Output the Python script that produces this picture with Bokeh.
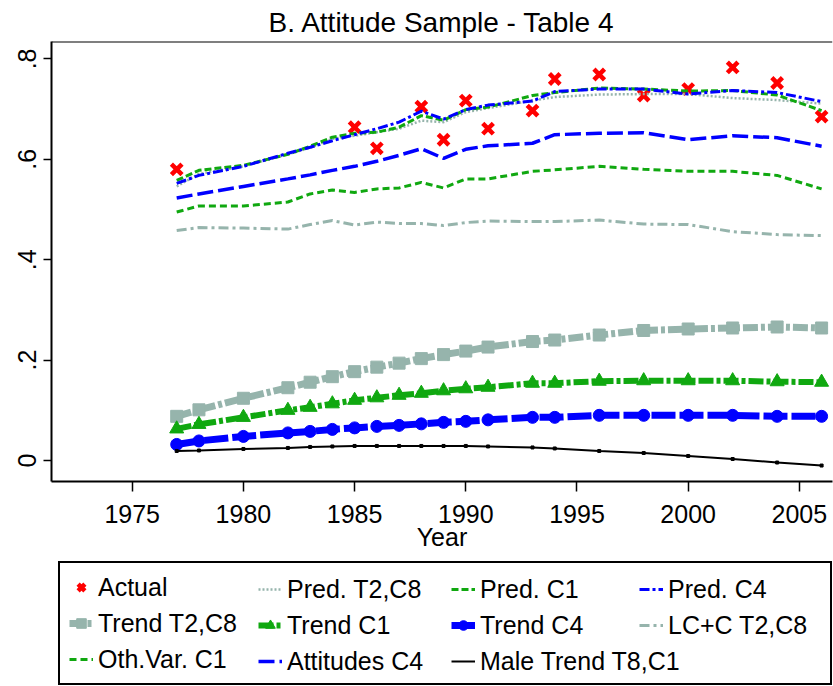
from bokeh.plotting import figure
from bokeh.models import Range1d, FixedTicker, Span, Legend, LegendItem
from bokeh.layouts import column
from bokeh.embed import file_html
from bokeh.resources import INLINE

FONT = "Liberation Sans"
GRAY = "#96b4ac"
GREEN = "#10a810"
BLUE = "#0000ff"
RED = "#ff0000"

# ---------------- data ----------------
years = [1977, 1978, 1980, 1982, 1983, 1984, 1985, 1986, 1987, 1988, 1989,
         1990, 1991, 1993, 1994, 1996, 1998, 2000, 2002, 2004, 2006]

actual_years = [1977, 1985, 1986, 1988, 1989, 1990, 1991, 1993, 1994, 1996,
                1998, 2000, 2002, 2004, 2006]
actual = [0.580, 0.664, 0.622, 0.705, 0.639, 0.717, 0.661, 0.697, 0.760, 0.769,
          0.727, 0.740, 0.783, 0.752, 0.685]

pred_t2c8 = [0.546, 0.571, 0.586, 0.610, 0.623, 0.641, 0.647, 0.654, 0.661, 0.677, 0.674,
             0.694, 0.702, 0.717, 0.724, 0.729, 0.730, 0.730, 0.722, 0.718, 0.711]
pred_c1 = [0.558, 0.578, 0.588, 0.610, 0.626, 0.644, 0.652, 0.654, 0.664, 0.687, 0.678,
           0.699, 0.704, 0.727, 0.733, 0.742, 0.740, 0.736, 0.737, 0.728, 0.697]
pred_c4 = [0.552, 0.568, 0.586, 0.612, 0.624, 0.637, 0.649, 0.661, 0.674, 0.696, 0.680,
           0.699, 0.708, 0.716, 0.735, 0.740, 0.740, 0.730, 0.737, 0.733, 0.715]
trend_t2c8 = [0.088, 0.101, 0.124, 0.145, 0.156, 0.167, 0.177, 0.186, 0.194, 0.203, 0.211,
              0.218, 0.226, 0.237, 0.240, 0.250, 0.259, 0.262, 0.264, 0.266, 0.264]
trend_c1 = [0.063, 0.072, 0.086, 0.100, 0.106, 0.113, 0.120, 0.125, 0.130, 0.134, 0.139,
            0.143, 0.146, 0.154, 0.154, 0.158, 0.159, 0.159, 0.159, 0.157, 0.156]
trend_c4 = [0.032, 0.039, 0.048, 0.055, 0.058, 0.062, 0.065, 0.068, 0.070, 0.073, 0.076,
            0.078, 0.081, 0.086, 0.086, 0.090, 0.090, 0.090, 0.090, 0.088, 0.088]
lc_t2c8 = [0.458, 0.464, 0.463, 0.461, 0.470, 0.478, 0.469, 0.475, 0.472, 0.472, 0.468,
           0.474, 0.477, 0.476, 0.476, 0.479, 0.471, 0.470, 0.456, 0.450, 0.448]
oth_c1 = [0.495, 0.507, 0.507, 0.515, 0.531, 0.539, 0.534, 0.541, 0.543, 0.554, 0.543,
          0.561, 0.561, 0.576, 0.579, 0.586, 0.580, 0.576, 0.576, 0.568, 0.541]
att_c4 = [0.523, 0.531, 0.546, 0.561, 0.569, 0.578, 0.586, 0.596, 0.608, 0.621, 0.602,
          0.620, 0.627, 0.632, 0.649, 0.652, 0.653, 0.639, 0.647, 0.643, 0.626]
male_t8c1 = [0.019, 0.020, 0.023, 0.025, 0.027, 0.028, 0.029, 0.029, 0.029, 0.029, 0.029,
             0.029, 0.028, 0.026, 0.024, 0.019, 0.015, 0.009, 0.003, -0.004, -0.010]

x_ticks = [1975, 1980, 1985, 1990, 1995, 2000, 2005]
y_ticks = [0, 0.2, 0.4, 0.6, 0.8]
y_tick_labels = ["0", ".2", ".4", ".6", ".8"]
title_text = "B. Attitude Sample - Table 4"
x_label = "Year"

X_START, X_END = 1971.37, 2006.49
Y_START, Y_END = -0.0418, 0.8347

# ---------------- styles ----------------
S = {
    "pred_t2c8": dict(line_color=GRAY, line_width=2.5, line_dash="2 2"),
    "pred_c1": dict(line_color=GREEN, line_width=3, line_dash="7 3"),
    "pred_c4": dict(line_color=BLUE, line_width=3, line_dash="10 3 3 3"),
    "trend_t2c8": dict(line_color=GRAY, line_width=7, line_dash="15 3 4 3"),
    "trend_c1": dict(line_color=GREEN, line_width=6, line_dash="15 3 4 3"),
    "trend_c4": dict(line_color=BLUE, line_width=7, line_dash="24 4"),
    "lc_t2c8": dict(line_color=GRAY, line_width=3, line_dash="10 4 3 4"),
    "oth_c1": dict(line_color=GREEN, line_width=3, line_dash="7 4"),
    "att_c4": dict(line_color=BLUE, line_width=3.5, line_dash="16 5"),
    "male": dict(line_color="black", line_width=2),
}
M = {
    "actual": dict(marker="x", size=15, line_color=RED, line_width=4.5),
    "trend_t2c8": dict(marker="square", size=12, color=GRAY),
    "trend_c1": dict(marker="triangle", size=14, color=GREEN),
    "trend_c4": dict(marker="circle", size=12, color=BLUE),
    "male": dict(marker="square", size=3, color="black"),
}

# ---------------- main plot ----------------
p = figure(width=833, height=560, output_backend="svg", toolbar_location=None,
           x_range=Range1d(X_START, X_END), y_range=Range1d(Y_START, Y_END),
           min_border_left=51, min_border_right=1, min_border_top=41, min_border_bottom=79,
           title=title_text)
p.title.text_font = FONT
p.title.text_font_size = "28px"
p.title.text_font_style = "normal"
p.title.text_color = "black"
p.title.align = "center"
p.title.standoff = 8
p.outline_line_color = None
p.grid.visible = False
p.background_fill_color = "white"
p.border_fill_color = "white"

for ax in (p.xaxis, p.yaxis):
    ax.axis_line_width = 2
    ax.axis_line_color = "black"
    ax.major_tick_line_width = 1.5
    ax.major_tick_line_color = "black"
    ax.major_tick_in = 0
    ax.minor_tick_line_color = None
    ax.major_label_text_font = FONT
    ax.major_label_text_font_size = "25px"
    ax.major_label_text_color = "black"

p.xaxis.ticker = FixedTicker(ticks=x_ticks)
p.xaxis.major_tick_out = 10
p.xaxis.major_label_standoff = 13
p.xaxis.axis_label = x_label
p.xaxis.axis_label_text_font = FONT
p.xaxis.axis_label_text_font_size = "25px"
p.xaxis.axis_label_text_font_style = "normal"
p.xaxis.axis_label_text_color = "black"
p.xaxis.axis_label_standoff = -3

p.yaxis.ticker = FixedTicker(ticks=y_ticks)
p.yaxis.major_label_overrides = {t: l for t, l in zip(y_ticks, y_tick_labels)}
p.yaxis.major_label_orientation = "vertical"
p.yaxis.major_tick_out = 8
p.yaxis.major_label_standoff = 7

p.add_layout(Span(location=Y_END, dimension="width", line_color="black", line_width=2))

# draw in Stata order
p.scatter(actual_years, actual, **M["actual"])
p.line(years, pred_t2c8, **S["pred_t2c8"])
p.line(years, pred_c1, **S["pred_c1"])
p.line(years, pred_c4, **S["pred_c4"])
p.line(years, trend_t2c8, **S["trend_t2c8"])
p.scatter(years, trend_t2c8, **M["trend_t2c8"])
p.line(years, trend_c1, **S["trend_c1"])
p.scatter(years, trend_c1, **M["trend_c1"])
p.line(years, trend_c4, **S["trend_c4"])
p.scatter(years, trend_c4, **M["trend_c4"])
p.line(years, lc_t2c8, **S["lc_t2c8"])
p.line(years, oth_c1, **S["oth_c1"])
p.line(years, att_c4, **S["att_c4"])
p.line(years, male_t8c1, **S["male"])
p.scatter(years, male_t8c1, **M["male"])

# ---------------- legend panel (same side borders as the plot) ----------------
lg = figure(width=833, height=126, output_backend="svg", toolbar_location=None,
            x_range=Range1d(0, 1), y_range=Range1d(0, 1),
            x_axis_location=None, y_axis_location=None,
            min_border_left=51, min_border_right=1, min_border_top=0, min_border_bottom=0)
lg.grid.visible = False
lg.outline_line_color = None
lg.background_fill_color = "white"
lg.border_fill_color = "white"

# legend proxies: the same series, lying outside this panel's (0..1) view
def proxy(series, line_key=None, marker_key=None, xs=years):
    rs = []
    if line_key:
        rs.append(lg.line(xs, series, **S[line_key]))
    if marker_key:
        rs.append(lg.scatter(xs, series, **M[marker_key]))
    return rs


legend_cols = [
    [("Actual", proxy(actual, None, "actual", actual_years)),
     ("Trend T2,C8", proxy(trend_t2c8, "trend_t2c8", "trend_t2c8")),
     ("Oth.Var. C1", proxy(oth_c1, "oth_c1"))],
    [("Pred. T2,C8", proxy(pred_t2c8, "pred_t2c8")),
     ("Trend C1", proxy(trend_c1, "trend_c1", "trend_c1")),
     ("Attitudes C4", proxy(att_c4, "att_c4"))],
    [("Pred. C1", proxy(pred_c1, "pred_c1")),
     ("Trend C4", proxy(trend_c4, "trend_c4", "trend_c4")),
     ("Male Trend T8,C1", proxy(male_t8c1, "male"))],
    [("Pred. C4", proxy(pred_c4, "pred_c4")),
     ("LC+C T2,C8", proxy(lc_t2c8, "lc_t2c8"))],
]
# (x offset from panel left, y offset of legend bottom from panel bottom)
col_pos = [(7, 1), (207, 10), (400, 10), (588, 46)]
for i, (items, (x0, y0)) in enumerate(zip(legend_cols, col_pos)):
    first = i == 0
    leg = Legend(items=[LegendItem(label=l, renderers=r) for l, r in items],
                 location=(x0, y0), orientation="vertical",
                 padding=9 if first else 0, margin=0,
                 spacing=6, glyph_width=24, glyph_height=30, label_height=30,
                 label_width=723 if first else 20,
                 label_standoff=5,
                 border_line_color="black" if first else None,
                 border_line_width=2, border_line_alpha=1,
                 background_fill_color="white",
                 background_fill_alpha=1 if first else 0,
                 label_text_font=FONT, label_text_font_size="25px",
                 label_text_color="black", click_policy="none")
    lg.add_layout(leg)

layout = column(p, lg, spacing=0)
open("out.html", "w").write(file_html(layout, INLINE))
